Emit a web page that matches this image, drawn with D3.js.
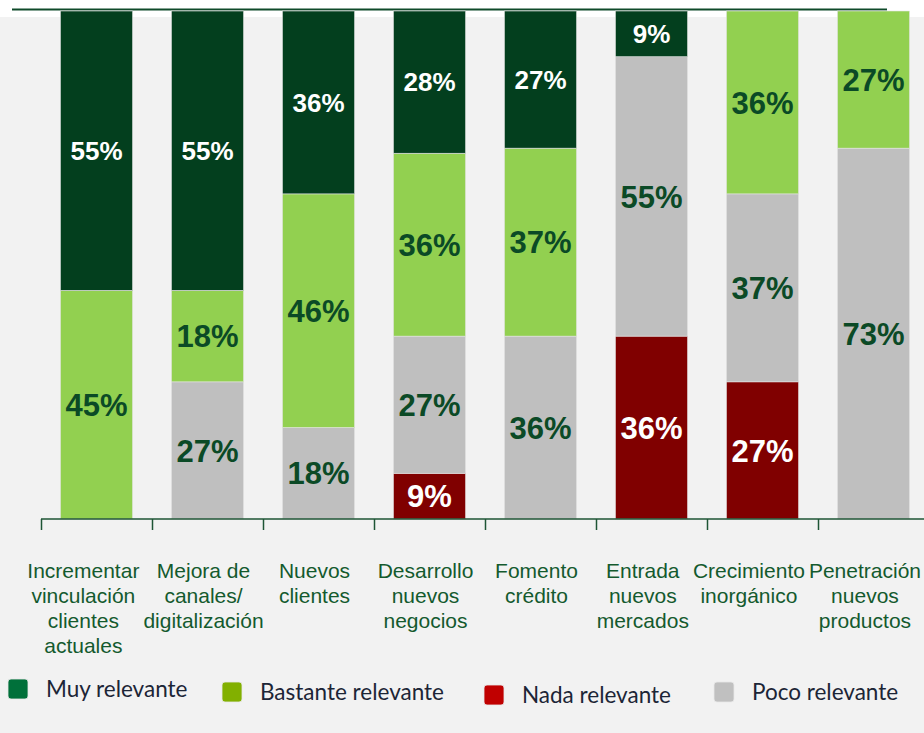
<!DOCTYPE html>
<html><head><meta charset="utf-8">
<script src="https://cdn.jsdelivr.net/npm/d3@7"></script>
<style>html,body{margin:0;padding:0;background:#f2f2f2;}svg{display:block;}</style>
</head><body>
<svg id="c" width="924" height="733"></svg>
<script>
const categories = [
  ["Incrementar","vinculación","clientes","actuales"],
  ["Mejora de","canales/","digitalización"],
  ["Nuevos","clientes"],
  ["Desarrollo","nuevos","negocios"],
  ["Fomento","crédito"],
  ["Entrada","nuevos","mercados"],
  ["Crecimiento","inorgánico"],
  ["Penetración","nuevos","productos"]
];
const muyRelevante      = [55, 55, 36, 28, 27,  9,  0,  0];
const bastanteRelevante = [45, 18, 46, 36, 37,  0, 36, 27];
const pocoRelevante     = [ 0, 27, 18, 27, 36, 55, 37, 73];
const nadaRelevante     = [ 0,  0,  0,  9,  0, 36, 27,  0];
const seriesNames = ["Nada relevante","Poco relevante","Bastante relevante","Muy relevante"];
const legendOrder = ["Muy relevante","Bastante relevante","Nada relevante","Poco relevante"];

const barColors = {"Muy relevante":"#033f1e","Bastante relevante":"#92d050","Poco relevante":"#bfbfbf","Nada relevante":"#800000"};
const legendColors = {"Muy relevante":"#00703a","Bastante relevante":"#82b000","Poco relevante":"#c0c0c0","Nada relevante":"#c00000"};
const labelColors = {"Muy relevante":"#ffffff","Bastante relevante":"#0b4a26","Poco relevante":"#0b4a26","Nada relevante":"#ffffff"};
const labelSizes = {"Muy relevante":26,"Bastante relevante":31,"Poco relevante":31,"Nada relevante":31};

const keys = categories.map((c,i)=>"c"+i);
const rows = keys.map((k,i)=>({key:k,
  "Nada relevante":nadaRelevante[i],"Poco relevante":pocoRelevante[i],
  "Bastante relevante":bastanteRelevante[i],"Muy relevante":muyRelevante[i]}));

const svg = d3.select("#c");
svg.append("rect").attr("x",0).attr("y",0).attr("width",924).attr("height",733).attr("fill","#f2f2f2");
svg.append("rect").attr("x",0).attr("y",0).attr("width",924).attr("height",17).attr("fill","#ffffff");
svg.append("line").attr("x1",12).attr("x2",887).attr("y1",9.5).attr("y2",9.5).attr("stroke","#0f4a2a").attr("stroke-width",2);

const x = d3.scaleBand().domain(keys).range([41,929]).paddingInner(0.35).paddingOuter(0.175);
const y = d3.scaleLinear().domain([0,100]).range([519,11]);

const stack = d3.stack().keys(seriesNames)(rows);

const g = svg.append("g");
stack.forEach(s=>{
  const name = s.key;
  g.selectAll(null).data(s.filter(d=>d[1]-d[0]>0)).enter().append("rect")
    .attr("x",d=>x(d.data.key)).attr("width",x.bandwidth())
    .attr("y",d=>y(d[1])).attr("height",d=>y(d[0])-y(d[1]))
    .attr("fill",barColors[name]).attr("stroke","#e4e4e4").attr("stroke-width",0.6);
});
stack.forEach(s=>{
  const name = s.key;
  g.selectAll(null).data(s.filter(d=>d[1]-d[0]>0)).enter().append("text")
    .attr("x",d=>x(d.data.key)+x.bandwidth()/2)
    .attr("y",d=>(y(d[0])+y(d[1]))/2)
    .attr("dy","0.36em")
    .attr("text-anchor","middle")
    .attr("font-family","'Liberation Sans', Arial, sans-serif")
    .attr("font-weight","bold")
    .attr("font-size",labelSizes[name])
    .attr("fill",labelColors[name])
    .text(d=>(d[1]-d[0])+"%");
});

// axis
const axisG = svg.append("g");
const step = x.step();
axisG.append("line").attr("x1",x(keys[0])-step*x.paddingInner()/2).attr("x2",924)
  .attr("y1",519).attr("y2",519).attr("stroke","#1e5535").attr("stroke-width",1.5);
axisG.selectAll(null).data(keys).enter().append("line")
  .attr("x1",d=>Math.round(x(d)-step*x.paddingInner()/2)+0.5)
  .attr("x2",d=>Math.round(x(d)-step*x.paddingInner()/2)+0.5)
  .attr("y1",519).attr("y2",530).attr("stroke","#1e5535").attr("stroke-width",1.5);

// category labels
const labSize = 21;
const cvs = document.createElement("canvas").getContext("2d");
cvs.font = labSize + "px 'Liberation Sans', Arial, sans-serif";
const widths = categories.map(lines=>d3.max(lines,l=>cvs.measureText(l).width));
const centers = new Array(categories.length);
let limit = 921;
for (let i=categories.length-1;i>=0;i--){
  const bc = x(keys[i])+x.bandwidth()/2 - 4;
  const c = Math.min(bc, limit - widths[i]/2);
  centers[i]=c;
  limit = c - widths[i]/2 - 4;
}
const catG = svg.append("g");
categories.forEach((lines,i)=>{
  const t = catG.append("text").attr("text-anchor","middle")
    .attr("font-family","'Liberation Sans', Arial, sans-serif").attr("font-size",labSize)
    .attr("fill","#145a2e");
  lines.forEach((l,j)=>{
    t.append("tspan").attr("x",centers[i]).attr("y",578+j*25).text(l);
  });
});

// legend
const legendPos = [{x:8,y:679},{x:222,y:682},{x:484,y:685},{x:714,y:682}];
const legG = svg.append("g");
legendOrder.forEach((name,i)=>{
  const p = legendPos[i];
  legG.append("rect").attr("x",p.x).attr("y",p.y).attr("width",20).attr("height",20).attr("rx",3)
    .attr("fill",legendColors[name]).attr("stroke","#e8e8e8").attr("stroke-width",0.8);
  legG.append("text").attr("x",p.x+38).attr("y",p.y+18)
    .attr("font-family","Lato, 'Open Sans', sans-serif").attr("font-size",22.5)
    .attr("fill","#1c2536").text(name);
});
</script>
</body></html>
